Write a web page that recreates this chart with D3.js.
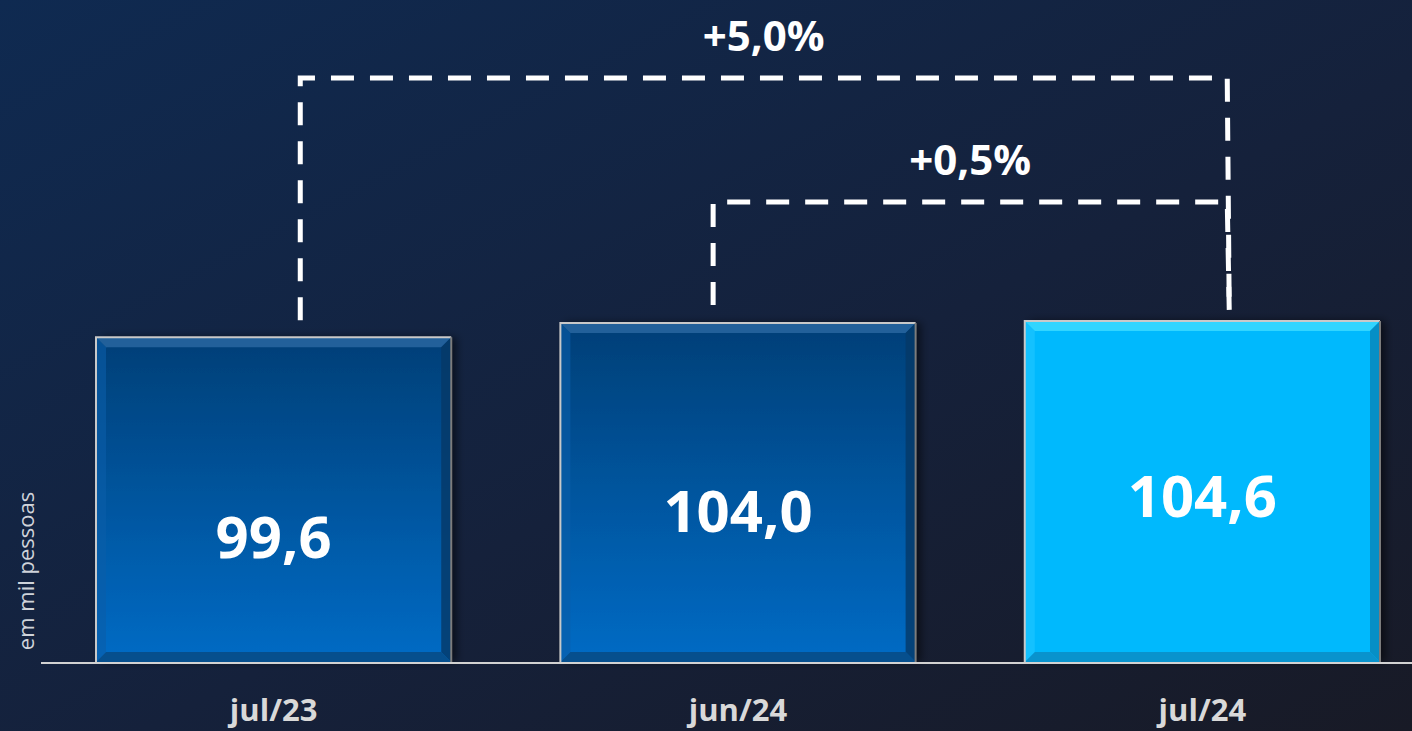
<!DOCTYPE html>
<html>
<head>
<meta charset="utf-8">
<script src="https://cdn.jsdelivr.net/npm/d3@7"></script>
<style>
  html, body { margin: 0; padding: 0; overflow: hidden; background: #14213a; }
  svg { display: block; }
</style>
</head>
<body>
<script>
// dados
const categories = ["jul/23", "jun/24", "jul/24"];
const values = [99.6, 104.0, 104.6];
const valueLabels = ["99,6", "104,0", "104,6"];
const highlight = [false, false, true];
const compFrom = ["jul/23", "jun/24"];
const compTo = ["jul/24", "jul/24"];
const compLabels = ["+5,0%", "+0,5%"];
const yTitle = "em mil pessoas";

const W = 1412, H = 731;
const svg = d3.select('body').append('svg')
              .attr('width', W).attr('height', H);
const defs = svg.append('defs');

const bg = defs.append('linearGradient').attr('id', 'bg')
               .attr('x1', 0).attr('y1', 0).attr('x2', 1).attr('y2', 1);
bg.append('stop').attr('offset', '0%').attr('stop-color', '#0f2a51');
bg.append('stop').attr('offset', '55%').attr('stop-color', '#15213b');
bg.append('stop').attr('offset', '100%').attr('stop-color', '#181a26');
svg.append('rect').attr('width', W).attr('height', H).attr('fill', 'url(#bg)');

const darkBar = defs.append('linearGradient').attr('id', 'darkBar')
                    .attr('x1', 0).attr('y1', 0).attr('x2', 0).attr('y2', 1);
darkBar.append('stop').attr('offset', '0%').attr('stop-color', '#063f77');
darkBar.append('stop').attr('offset', '100%').attr('stop-color', '#066bc5');

const shadow = defs.append('filter').attr('id', 'shadow')
                   .attr('x', '-5%').attr('y', '-5%').attr('width', '115%').attr('height', '110%');
shadow.append('feDropShadow').attr('dx', 5).attr('dy', 0).attr('stdDeviation', 4)
      .attr('flood-color', '#000').attr('flood-opacity', 0.55);

const x = d3.scaleBand().domain(categories).range([96, 1380]).paddingInner(0.235).paddingOuter(0);
const y = d3.scaleLinear().domain([0, d3.max(values)]).range([662, 321]);

const data = categories.map((c, i) => ({ cat: c, v: values[i], label: valueLabels[i], hi: highlight[i] }));
const bw = x.bandwidth();
const bev = 10;
const labelDy = [58, 40, 25];

const bars = svg.append('g').selectAll('g').data(data).join('g')
                .attr('transform', d => `translate(${x(d.cat)},${y(d.v)})`);

bars.append('rect')
    .attr('width', bw).attr('height', d => y(0) - y(d.v))
    .attr('fill', d => d.hi ? '#05b9fd' : 'url(#darkBar)')
    .attr('filter', 'url(#shadow)');

// bevel: top light, right/bottom dark, left slightly light
bars.append('path')
    .attr('d', `M0,0 L${bw},0 L${bw - bev},${bev} L${bev},${bev} Z`)
    .attr('fill', d => d.hi ? '#3fdcff' : '#2a68a2').attr('opacity', 0.8);
bars.append('path')
    .attr('d', d => { const h = y(0) - y(d.v); return `M${bw},0 L${bw},${h} L${bw - bev},${h - bev} L${bw - bev},${bev} Z`; })
    .attr('fill', d => d.hi ? '#0884b8' : '#053866').attr('opacity', 0.8);
bars.append('path')
    .attr('d', d => { const h = y(0) - y(d.v); return `M0,${h} L${bw},${h} L${bw - bev},${h - bev} L${bev},${h - bev} Z`; })
    .attr('fill', d => d.hi ? '#0a8cc4' : '#074a84').attr('opacity', 0.85);
bars.append('path')
    .attr('d', d => { const h = y(0) - y(d.v); return `M0,0 L${bev},${bev} L${bev},${h - bev} L0,${h} Z`; })
    .attr('fill', d => d.hi ? '#22c6ff' : '#0a5da8').attr('opacity', 0.6);

// border
bars.append('path')
    .attr('d', d => { const h = y(0) - y(d.v); return `M0,${h} L0,0 L${bw},0`; })
    .attr('fill', 'none').attr('stroke', '#c9c9c9').attr('stroke-width', 2);
bars.append('path')
    .attr('d', d => { const h = y(0) - y(d.v); return `M${bw},0 L${bw},${h}`; })
    .attr('fill', 'none').attr('stroke', '#7c7c7c').attr('stroke-width', 2);

bars.append('text')
    .attr('x', bw / 2)
    .attr('y', (d, i) => (y(0) - y(d.v)) / 2 + labelDy[i])
    .attr('text-anchor', 'middle')
    .style('font-family', '"Open Sans", sans-serif').style('font-weight', 700)
    .style('font-size', '58px').style('fill', '#ffffff')
    .text(d => d.label);

// baseline
svg.append('line').attr('x1', 41).attr('x2', W).attr('y1', y(0) + 1).attr('y2', y(0) + 1)
   .style('stroke', '#d2d2d2').style('stroke-width', 2);

// category axis
const xAxis = svg.append('g').attr('transform', `translate(0,${y(0)})`)
                 .call(d3.axisBottom(x).tickSize(0).tickPadding(37));
xAxis.select('.domain').remove();
xAxis.selectAll('text')
     .style('font-family', '"Open Sans", sans-serif').style('font-weight', 700)
     .style('font-size', '31px').style('fill', '#d9d9d9');

// y title
svg.append('text')
   .attr('transform', 'translate(34,571) rotate(-90)')
   .attr('text-anchor', 'middle')
   .style('font-family', '"Open Sans", sans-serif').style('font-size', '22px').style('fill', '#cfd3da')
   .text(yTitle);

// comparison brackets
const bracketY = [78, 202];
const fromFrac = [0.575, 0.43];
const toFrac = 0.57;
const gapFrom = [17, 18];
const gapTo = [11, 11];
const comps = compFrom.map((f, i) => ({ from: f, to: compTo[i], label: compLabels[i] }));
const vOf = c => values[categories.indexOf(c)];

const br = svg.append('g').selectAll('g').data(comps).join('g');
br.append('path')
  .attr('d', (d, i) => {
    const x1 = x(d.from) + bw * fromFrac[i], x2 = x(d.to) + bw * toFrac;
    const yt = bracketY[i];
    return `M${x1},${y(vOf(d.from)) - gapFrom[i]} L${x1},${yt} L${x2},${yt} L${x2 + 2},${y(vOf(d.to)) - gapTo[i]}`;
  })
  .attr('fill', 'none').style('stroke', '#ffffff').style('stroke-width', 5)
  .style('stroke-dasharray', '23,16');
br.append('text')
  .attr('x', (d, i) => (x(d.from) + bw * fromFrac[i] + x(d.to) + bw * toFrac) / 2)
  .attr('y', (d, i) => bracketY[i] - 27)
  .attr('text-anchor', 'middle')
  .style('font-family', '"Open Sans", sans-serif').style('font-weight', 700)
  .style('font-size', '42px').style('fill', '#ffffff')
  .text(d => d.label);
</script>
</body>
</html>
